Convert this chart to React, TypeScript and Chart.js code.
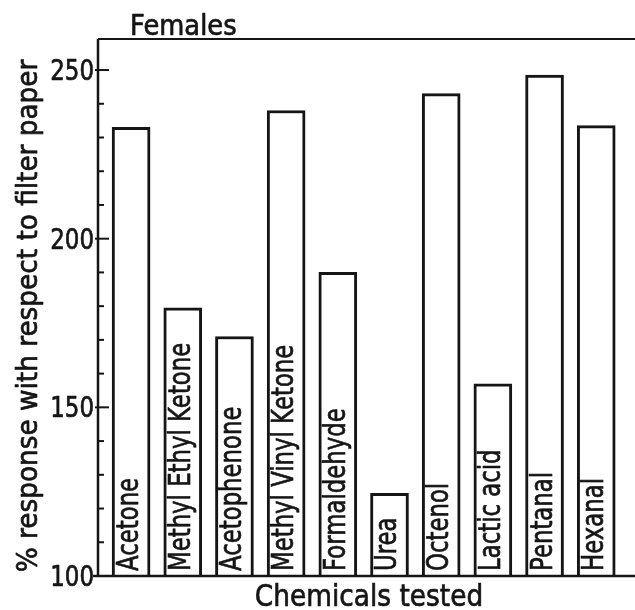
import React, { useEffect, useRef } from "react";
import { Chart, registerables } from "chart.js";

Chart.register(...registerables);

const categories = [
  "Acetone",
  "Methyl Ethyl Ketone",
  "Acetophenone",
  "Methyl Vinyl Ketone",
  "Formaldehyde",
  "Urea",
  "Octenol",
  "Lactic acid",
  "Pentanal",
  "Hexanal",
];
const responses = [233, 179.5, 171, 238, 190, 124.5, 243, 157, 248.5, 233.5];
const yMajorTicks = [100, 150, 200, 250];
const yMinorStep = 10;
const chartTitle = "Females";
const xTitle = "Chemicals tested";
const yTitle = "% response with respect to filter paper";

const INK = "#151515";
const FONT = "DejaVu Sans";

function drawText(
  ctx: CanvasRenderingContext2D,
  text: string,
  x: number,
  y: number,
  opts: { size: number; sx: number; rot?: number; align?: CanvasTextAlign }
) {
  ctx.save();
  ctx.translate(x, y);
  if (opts.rot) ctx.rotate(opts.rot);
  ctx.scale(opts.sx, 1);
  ctx.font = `normal ${opts.size}px "${FONT}"`;
  ctx.fillStyle = INK;
  ctx.strokeStyle = INK;
  ctx.lineWidth = 0.7;
  ctx.lineJoin = "round";
  ctx.textAlign = opts.align || "left";
  ctx.textBaseline = "alphabetic";
  ctx.fillText(text, 0, 0);
  ctx.strokeText(text, 0, 0);
  ctx.restore();
}

const decorPlugin = {
  id: "decor",
  beforeDraw(chart: any) {
    const ctx = chart.ctx as CanvasRenderingContext2D;
    ctx.save();
    ctx.fillStyle = "#ffffff";
    ctx.fillRect(0, 0, chart.width, chart.height);
    ctx.restore();
  },
  afterDraw(chart: any) {
    const ctx = chart.ctx as CanvasRenderingContext2D;
    const { left, top, bottom } = chart.chartArea;
    const xs = chart.scales.x;
    const ys = chart.scales.y;

    ctx.save();
    ctx.strokeStyle = INK;
    ctx.lineCap = "butt";

    ctx.lineWidth = 2.5;
    ctx.beginPath();
    ctx.moveTo(left, top);
    ctx.lineTo(left, bottom);
    ctx.stroke();
    ctx.lineWidth = 2;
    ctx.beginPath();
    ctx.moveTo(left, top);
    ctx.lineTo(chart.width, top);
    ctx.stroke();
    ctx.lineWidth = 2.5;
    ctx.beginPath();
    ctx.moveTo(left - 5, bottom);
    ctx.lineTo(chart.width, bottom);
    ctx.stroke();

    const minV = yMajorTicks[0];
    const maxV = yMajorTicks[yMajorTicks.length - 1];
    ctx.lineWidth = 2;
    for (let v = minV; v <= maxV; v += yMinorStep) {
      const py = ys.getPixelForValue(v);
      const major = yMajorTicks.includes(v);
      ctx.beginPath();
      ctx.moveTo(left - (major ? 3 : 1), py);
      ctx.lineTo(left + (major ? 11 : 6), py);
      ctx.stroke();
    }
    ctx.restore();

    yMajorTicks.forEach((v) => {
      const py = ys.getPixelForValue(v);
      drawText(ctx, String(v), left - 4, py + 10, { size: 28, sx: 0.82, align: "right" });
    });

    categories.forEach((c, i) => {
      const px = xs.getPixelForValue(i);
      drawText(ctx, c, px + 7, bottom - 5, { size: 30, sx: 0.76, rot: -Math.PI / 2 });
    });

    drawText(ctx, chartTitle, 130, 35, { size: 28, sx: 0.92 });
    drawText(ctx, xTitle, 369, 606, { size: 30, sx: 0.88, align: "center" });
    drawText(ctx, yTitle, 37, 316, { size: 28, sx: 0.94, rot: -Math.PI / 2, align: "center" });
  },
};

export default function App() {
  const ref = useRef<HTMLCanvasElement | null>(null);

  useEffect(() => {
    if (!ref.current) return;
    const chart = new Chart(ref.current, {
      type: "bar",
      data: {
        datasets: [
          {
            data: responses.map((v, i) => ({ x: i, y: v })),
            backgroundColor: "#ffffff",
            borderColor: INK,
            borderWidth: 3,
            borderSkipped: "start",
            barThickness: 38,
          },
        ],
      },
      options: {
        animation: false,
        responsive: false,
        events: [],
        layout: { padding: { left: 98, top: 39, right: 0, bottom: 34 } },
        plugins: {
          legend: { display: false },
          tooltip: { enabled: false },
          title: { display: false },
        },
        scales: {
          x: {
            type: "linear",
            display: false,
            offset: false,
            grid: { offset: false },
            min: -0.64,
            max: 9.75,
          },
          y: { type: "linear", display: false, min: 100, max: 259.2 },
        },
      },
      plugins: [decorPlugin],
    });
    return () => chart.destroy();
  }, []);

  return (
    <div style={{ position: "fixed", left: 0, top: 0, width: 635, height: 610, background: "#fff" }}>
      <canvas ref={ref} width={635} height={610} style={{ display: "block" }} />
    </div>
  );
}
